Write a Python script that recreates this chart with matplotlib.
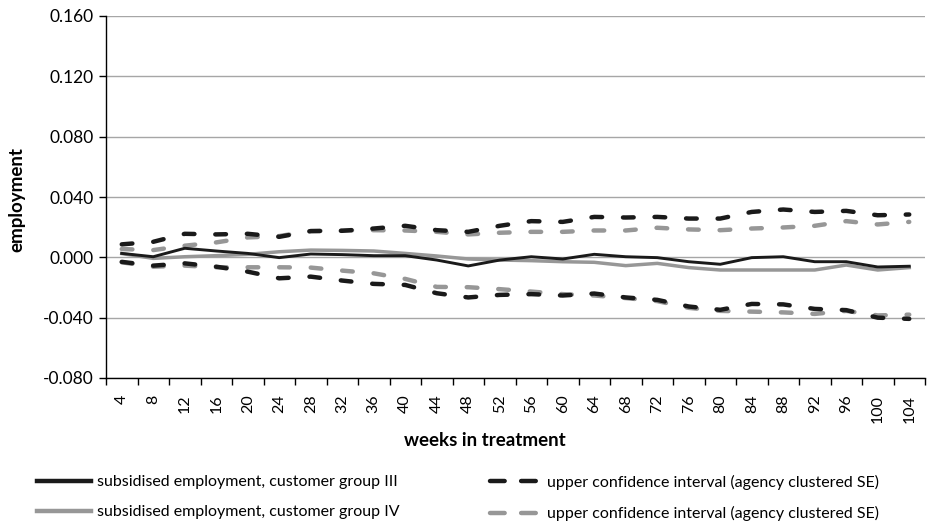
import matplotlib
matplotlib.use('Agg')
from matplotlib import pyplot as plt
from matplotlib.lines import Line2D
import numpy as np

plt.rcParams['font.family'] = ['Lato', 'DejaVu Sans']

# weeks in treatment (x categories)
weeks = [4, 8, 12, 16, 20, 24, 28, 32, 36, 40, 44, 48, 52, 56, 60, 64, 68, 72, 76, 80, 84, 88, 92, 96, 100, 104]

# customer group III (black)
group3 = [0.0026, 0.0004, 0.0060, 0.0042, 0.0026, -0.0002, 0.0022, 0.0018, 0.0011, 0.0011,
          -0.0018, -0.0057, -0.0018, 0.0004, -0.0011, 0.0020, 0.0004, -0.0002, -0.0029, -0.0046,
          -0.0002, 0.0004, -0.0029, -0.0029, -0.0064, -0.0059]
group3_upper = [0.0086, 0.0103, 0.0156, 0.0152, 0.0156, 0.0136, 0.0174, 0.0176, 0.0191, 0.0209,
                0.0180, 0.0169, 0.0209, 0.0240, 0.0235, 0.0268, 0.0264, 0.0268, 0.0257, 0.0257,
                0.0301, 0.0317, 0.0301, 0.0308, 0.0279, 0.0284]
group3_lower = [-0.0030, -0.0055, -0.0040, -0.0062, -0.0095, -0.0139, -0.0128, -0.0154, -0.0176, -0.0183,
                -0.0238, -0.0266, -0.0249, -0.0244, -0.0253, -0.0240, -0.0266, -0.0282, -0.0326, -0.0348,
                -0.0309, -0.0312, -0.0342, -0.0350, -0.0400, -0.0408]

# customer group IV (grey)
group4 = [0.0025, -0.0007, 0.0004, 0.0011, 0.0020, 0.0037, 0.0048, 0.0046, 0.0042, 0.0026,
          0.0009, -0.0011, -0.0018, -0.0022, -0.0029, -0.0033, -0.0055, -0.0040, -0.0068, -0.0084,
          -0.0084, -0.0084, -0.0084, -0.0051, -0.0084, -0.0068]
group4_upper = [0.0055, 0.0048, 0.0077, 0.0099, 0.0132, 0.0141, 0.0174, 0.0178, 0.0180, 0.0178,
                0.0169, 0.0152, 0.0163, 0.0169, 0.0169, 0.0178, 0.0178, 0.0196, 0.0185, 0.0180,
                0.0191, 0.0198, 0.0209, 0.0240, 0.0218, 0.0235]
group4_lower = [-0.0033, -0.0062, -0.0055, -0.0066, -0.0066, -0.0066, -0.0068, -0.0088, -0.0106, -0.0143,
                -0.0196, -0.0198, -0.0211, -0.0227, -0.0244, -0.0253, -0.0270, -0.0290, -0.0335, -0.0355,
                -0.0360, -0.0365, -0.0375, -0.0355, -0.0385, -0.0380]

y_ticks = [-0.080, -0.040, 0.000, 0.040, 0.080, 0.120, 0.160]

black = '#1a1a1a'
grey = '#979797'
dash = (2.4, 4.7)

fig = plt.figure(figsize=(9.3, 5.27), dpi=100)
ax = fig.add_axes([106 / 930, 1 - 378 / 527, (925 - 106) / 930, (378 - 16) / 527])

x = np.arange(1, len(weeks) + 1)

# dashed confidence bands
for vals, col in [(group4_upper, grey), (group4_lower, grey), (group3_upper, black), (group3_lower, black)]:
    ax.plot(x, vals, color=col, lw=3.2, dashes=dash, dash_capstyle='round', solid_joinstyle='round')

ax.plot(x, group4, color=grey, lw=2.5, solid_joinstyle='round')
ax.plot(x, group3, color=black, lw=2.1, solid_joinstyle='round')

ax.set_xlim(0.5, len(weeks) + 0.5)
ax.set_ylim(-0.080, 0.160)
ax.set_yticks(y_ticks)
ax.set_yticklabels(['%.3f' % v for v in y_ticks], fontsize=12.5)
ax.yaxis.grid(True, color='#a6a6a6', lw=1.0)
ax.set_axisbelow(True)

# ticks at category boundaries, labels at centres
ax.set_xticks(np.arange(0.5, len(weeks) + 1, 1))
ax.set_xticklabels([])
ax.set_xticks(x, minor=True)
ax.set_xticklabels([str(w) for w in weeks], minor=True, rotation=90, fontsize=11.5)
ax.tick_params(axis='x', which='minor', length=0, pad=12)
ax.tick_params(axis='x', which='major', length=5, width=1, color='black')
ax.tick_params(axis='y', length=5, width=1, color='black', pad=4)

for s in ['top', 'right']:
    ax.spines[s].set_visible(False)
for s in ['left', 'bottom']:
    ax.spines[s].set_color('black')
    ax.spines[s].set_linewidth(1.0)

fig.text(17 / 930, 1 - 199 / 527, 'employment', rotation=90, ha='center', va='center',
         fontsize=13.5, fontweight='bold')
fig.text(485 / 930, 1 - 441 / 527, 'weeks in treatment', ha='center', va='center',
         fontsize=13.5, fontweight='bold')

# legend, two columns
h1 = [Line2D([], [], color=black, lw=3.2), Line2D([], [], color=grey, lw=3.2)]
l1 = ['subsidised employment, customer group III', 'subsidised employment, customer group IV']
h2 = [Line2D([], [], color=black, lw=3.2, dashes=(3.3, 3.7), dash_capstyle='round'),
      Line2D([], [], color=grey, lw=3.2, dashes=(3.3, 3.7), dash_capstyle='round')]
l2 = ['upper confidence interval (agency clustered SE)', 'upper confidence interval (agency clustered SE)']

fig.legend(h1, l1, loc='upper left', bbox_to_anchor=(37 / 930, 1 - 475 / 527), frameon=False,
           fontsize=11.5, handlelength=3.4, handletextpad=0.37, labelspacing=1.0,
           borderpad=0, borderaxespad=0)
fig.legend(h2, l2, loc='upper left', bbox_to_anchor=(490 / 930, 1 - 475 / 527), frameon=False,
           fontsize=11.5, handlelength=2.9, handletextpad=0.69, labelspacing=1.0,
           borderpad=0, borderaxespad=0)

fig.savefig('out.png', dpi=100)
